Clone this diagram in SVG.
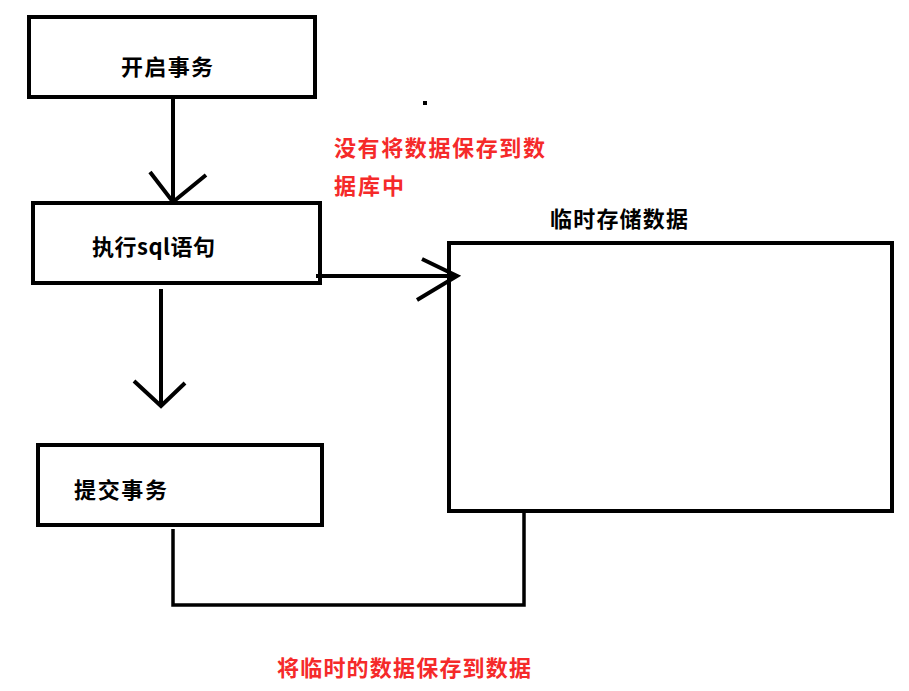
<svg xmlns="http://www.w3.org/2000/svg" width="909" height="691" viewBox="0 0 909 691">
<style>
.box{fill:#fff;stroke:#000;stroke-width:4}
.lbl{font-family:"Noto Sans CJK SC","Noto Sans",sans-serif;font-size:22px;font-weight:700;fill:#000}
.red{fill:#f52a2a}
.ln{fill:none;stroke:#000;stroke-width:4;stroke-linecap:butt}
.thin{fill:none;stroke:#000;stroke-width:3.5}
</style>
<rect width="909" height="691" fill="#fff"/>
<g id="n1"><rect class="box" x="29" y="17" width="286" height="80"/><text class="lbl" x="121" y="75" textLength="92" lengthAdjust="spacing">开启事务</text></g>
<g id="n2"><rect class="box" x="33" y="203" width="287" height="80"/><text class="lbl" x="92" y="255" textLength="123" lengthAdjust="spacing">执行sql语句</text></g>
<g id="n3"><rect class="box" x="38" y="445" width="284" height="80"/><text class="lbl" x="74" y="498" textLength="93" lengthAdjust="spacing">提交事务</text></g>
<g id="n4"><rect class="box" x="449" y="243" width="443" height="268"/><text class="lbl" x="550" y="227" textLength="138" lengthAdjust="spacing">临时存储数据</text></g>
<g id="connectors">
<line class="ln" x1="173" y1="99" x2="173" y2="203"/>
<polyline class="ln" points="150,172 173,202 206,175"/>
<line class="ln" x1="316" y1="276" x2="457" y2="276"/>
<polyline class="ln" points="422,259 457,276 417,300"/>
<line class="ln" x1="161" y1="289" x2="161" y2="406"/>
<polyline class="ln" points="134,381 161,406 185,383"/>
<polyline class="thin" points="173,529 173,605 524,605 524,512"/>
</g>
<g id="notes">
<rect x="423" y="101" width="4" height="4" fill="#000"/>
<text class="lbl red" x="334" y="156" textLength="211" lengthAdjust="spacing">没有将数据保存到数</text>
<text class="lbl red" x="334" y="194" textLength="70" lengthAdjust="spacing">据库中</text>
<text class="lbl red" x="277" y="676" textLength="254" lengthAdjust="spacing">将临时的数据保存到数据</text>
</g>
</svg>
